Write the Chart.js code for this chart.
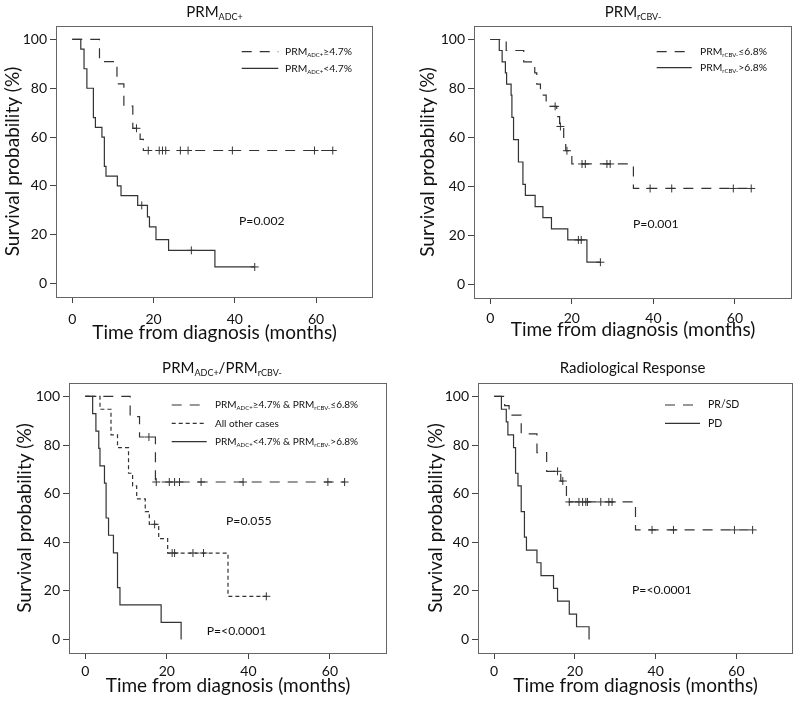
<!DOCTYPE html>
<html>
<head>
<meta charset="utf-8">
<script src="https://cdn.jsdelivr.net/npm/chart.js@4"></script>
<style>
  body { margin: 0; background: #fff; width: 800px; height: 701px; position: relative; overflow: hidden; }
  canvas { position: absolute; }
</style>
</head>
<body>
<canvas id="c1" width="390" height="344" style="left:1px;top:0px"></canvas>
<canvas id="c2" width="384" height="341" style="left:416px;top:0px"></canvas>
<canvas id="c3" width="390" height="340" style="left:13px;top:357px"></canvas>
<canvas id="c4" width="376" height="340" style="left:424px;top:357px"></canvas>
<script>
const xTicks = [0, 20, 40, 60];
const yTicks = [0, 20, 40, 60, 80, 100];

// PRM ADC+
const aHighT = [0, 6.7, 11.0, 12.7, 14.9, 16.7, 17.5, 64.1];
const aHighS = [100, 90.9, 81.8, 72.7, 63.6, 59.1, 54.5, 54.5];
const aHighCens = [15.8, 18.7, 21.4, 22.2, 23.0, 26.6, 28.5, 39.4, 59.6, 64.1];
const aLowT = [0, 2.1, 2.9, 3.6, 5.2, 5.7, 7.3, 7.9, 8.3, 11.1, 12.0, 16.1, 18.5, 19.0, 20.6, 23.7, 35.1, 44.9];
const aLowS = [100, 96, 88, 80, 68, 64, 60, 48, 44, 40, 36, 32, 27.3, 23.2, 18.0, 13.6, 6.8, 6.8];
const aLowCens = [17.1, 29.3, 44.9];

// PRM rCBV-
const bLowT = [0, 3.9, 8.2, 10.9, 11.4, 12.3, 13.7, 16.3, 17.0, 18.0, 18.5, 20.0, 35.1, 64.0];
const bLowS = [100, 95.5, 90.9, 86.4, 81.8, 77.3, 72.7, 68.5, 64.5, 59.6, 54.6, 49.2, 39.2, 39.2];
const bLowCens = [15.9, 17.2, 18.8, 22.5, 23.3, 28.6, 29.4, 39.2, 44.5, 59.6, 64.0];
const bHighT = [0, 2.2, 2.9, 3.7, 4.0, 5.1, 5.3, 5.7, 6.9, 8.0, 8.6, 11.0, 12.9, 15.0, 19.0, 23.7, 27.0];
const bHighS = [100, 95.5, 90.9, 86.4, 81.8, 77.3, 68.2, 59.1, 50, 40.9, 36.4, 31.8, 27.3, 22.7, 18.2, 9.1, 9.1];
const bHighCens = [21.6, 22.3, 27.0];

// PRM ADC+ / PRM rCBV-
const cBestT = [0, 11.0, 13.3, 17.2, 63.6];
const cBestS = [100, 91.7, 83.3, 64.8, 64.8];
const cBestCens = [15.6, 17.4, 20.6, 21.9, 23.1, 28.4, 38.7, 59.5, 63.6];
const cOtherT = [0, 3.6, 6.3, 7.9, 10.6, 11.6, 12.6, 14.7, 15.7, 18.0, 20.2, 35.0, 44.4];
const cOtherS = [100, 94.7, 84.2, 78.9, 68.4, 63.2, 57.9, 52.6, 47.4, 41.5, 35.6, 17.8, 17.8];
const cOtherCens = [17.0, 21.3, 21.9, 26.4, 29.0, 44.4];
const cWorstT = [0, 1.8, 2.6, 3.3, 3.6, 4.7, 5.1, 5.7, 6.9, 7.9, 8.5, 18.6, 23.5];
const cWorstS = [100, 92.9, 85.7, 78.6, 71.4, 64.3, 50, 42.9, 35.7, 21.4, 14.3, 7.1, 0];

// Radiological response
const dPrT = [0, 2.6, 3.7, 6.7, 10.6, 13.0, 16.5, 17.9, 35.0, 64.0];
const dPrS = [100, 96.2, 92.3, 84.6, 76.9, 69.2, 65.2, 56.6, 45.1, 45.1];
const dPrCens = [15.7, 17.0, 18.6, 21.0, 21.9, 22.7, 23.1, 26.4, 28.4, 29.2, 39.1, 44.4, 59.5, 64.0];
const dPdT = [0, 1.8, 3.0, 3.4, 4.8, 5.3, 5.9, 6.7, 7.5, 8.0, 10.6, 11.6, 14.7, 15.7, 18.6, 20.4, 23.5];
const dPdS = [100, 94.7, 89.5, 84.2, 78.9, 68.4, 63.2, 52.6, 42.1, 36.8, 31.6, 26.3, 21.1, 15.8, 10.5, 5.3, 0];

const FONT = 'Lato, "Open Sans", sans-serif';
const INK = '#333';
const LONG = [10, 8];
const SHORT = [4, 3];

Chart.defaults.font.family = FONT;
Chart.defaults.color = '#111';

const survAt = (t, T, S) => {
  let v = S[0];
  T.forEach((ti, i) => { if (ti <= t) v = S[i]; });
  return v;
};

const curve = (T, S, dash) => ({
  type: 'line',
  data: T.map((t, i) => ({ x: t, y: S[i] })),
  stepped: true,
  borderColor: INK,
  borderWidth: 1.2,
  borderDash: dash,
  pointRadius: 0,
  fill: false
});

const censors = (C, T, S) => ({
  type: 'scatter',
  data: C.map(t => ({ x: t, y: survAt(t, T, S) })),
  showLine: false,
  pointStyle: 'cross',
  pointRadius: 4,
  borderColor: INK,
  borderWidth: 1
});

// draws text made of [text, isSub] pieces
const drawRich = (ctx, parts, x, y, size, align) => {
  const subSize = Math.round(size * 0.6);
  const widths = parts.map(([txt, sub]) => {
    ctx.font = `${sub ? subSize : size}px ${FONT}`;
    return ctx.measureText(txt).width;
  });
  const total = widths.reduce((a, b) => a + b, 0);
  let cx = align === 'center' ? x - total / 2 : x;
  ctx.textBaseline = 'middle';
  ctx.textAlign = 'left';
  parts.forEach(([txt, sub], i) => {
    ctx.font = `${sub ? subSize : size}px ${FONT}`;
    ctx.fillText(txt, cx, sub ? y + size * 0.35 : y);
    cx += widths[i];
  });
};

const panelText = {
  id: 'panelText',
  afterDraw(chart, args, opts) {
    const { ctx, chartArea: a } = chart;
    ctx.save();
    ctx.strokeStyle = '#666';
    ctx.lineWidth = 1;
    ctx.setLineDash([]);
    ctx.strokeRect(Math.round(a.left) + 0.5, Math.round(a.top) + 0.5, Math.round(a.width) - 1, Math.round(a.height));
    ctx.fillStyle = '#111';
    drawRich(ctx, opts.title, (a.left + a.right) / 2 + opts.titleDx, a.top + opts.titleDy, 15, 'center');
    opts.legend.forEach((item, i) => {
      const y = a.top + opts.legendY + i * opts.legendStep;
      ctx.strokeStyle = INK;
      ctx.lineWidth = 1.2;
      ctx.setLineDash(item.dash);
      ctx.beginPath();
      ctx.moveTo(a.left + opts.sampleX[0], y);
      ctx.lineTo(a.left + opts.sampleX[1], y);
      ctx.stroke();
      drawRich(ctx, item.parts, a.left + opts.textX, y, opts.legendSize, 'left');
    });
    opts.pvals.forEach(p => drawRich(ctx, [[p.text]], a.left + p.x, a.top + p.y, 12.2, 'left'));
    ctx.restore();
  }
};

const makeChart = (id, box, datasets, text) => {
  const canvas = document.getElementById(id);
  new Chart(canvas, {
    type: 'line',
    data: { datasets },
    plugins: [panelText],
    options: {
      responsive: false,
      animation: false,
      events: [],
      layout: { padding: { top: box.top, right: box.right, left: 0, bottom: 0 } },
      plugins: { legend: { display: false }, tooltip: { enabled: false }, panelText: text },
      scales: {
        x: {
          type: 'linear', min: -4, max: 74,
          afterBuildTicks: s => { s.ticks = xTicks.map(v => ({ value: v })); },
          afterFit: s => { s.height = box.xh; },
          border: { display: false },
          grid: { drawOnChartArea: false, tickLength: 6, color: '#444' },
          ticks: { font: { size: 14 }, padding: box.tp, color: '#111' },
          title: { display: true, text: 'Time from diagnosis (months)', font: { size: 19 }, padding: 0, color: '#111' }
        },
        y: {
          type: 'linear', min: -5.5, max: 105.5,
          afterBuildTicks: s => { s.ticks = yTicks.map(v => ({ value: v })); },
          afterFit: s => { s.width = box.yw; },
          border: { display: false },
          grid: { drawOnChartArea: false, tickLength: 6, color: '#444' },
          ticks: { font: { size: 14 }, padding: 3, color: '#111' },
          title: { display: true, text: 'Survival probability (%)', font: { size: 19 }, padding: 0, color: '#111' }
        }
      }
    }
  });
};

makeChart('c1', { top: 26, right: 18, xh: 47, yw: 55, tp: 8 }, [
  curve(aHighT, aHighS, LONG), censors(aHighCens, aHighT, aHighS),
  curve(aLowT, aLowS, []), censors(aLowCens, aLowT, aLowS)
], {
  title: [['PRM'], ['ADC+', 1]], titleDx: 0, titleDy: -14,
  legendY: 25.7, legendStep: 16.6, sampleX: [185.7, 222.3], textX: 229, legendSize: 10.3,
  legend: [
    { dash: LONG, parts: [['PRM'], ['ADC+', 1], ['≥4.7%']] },
    { dash: [], parts: [['PRM'], ['ADC+', 1], ['<4.7%']] }
  ],
  pvals: [{ text: 'P=0.002', x: 183, y: 194.7 }]
});

makeChart('c2', { top: 26, right: 8, xh: 43, yw: 58, tp: 6 }, [
  curve(bLowT, bLowS, LONG), censors(bLowCens, bLowT, bLowS),
  curve(bHighT, bHighS, []), censors(bHighCens, bHighT, bHighS)
], {
  title: [['PRM'], ['rCBV-', 1]], titleDx: 0, titleDy: -14,
  legendY: 25.7, legendStep: 16, sampleX: [182.7, 217.7], textX: 226, legendSize: 10.3,
  legend: [
    { dash: LONG, parts: [['PRM'], ['rCBV-', 1], ['≤6.8%']] },
    { dash: [], parts: [['PRM'], ['rCBV-', 1], ['>6.8%']] }
  ],
  pvals: [{ text: 'P=0.001', x: 159, y: 198 }]
});

makeChart('c3', { top: 26, right: 16, xh: 44, yw: 56, tp: 4 }, [
  curve(cBestT, cBestS, LONG), censors(cBestCens, cBestT, cBestS),
  curve(cOtherT, cOtherS, SHORT), censors(cOtherCens, cOtherT, cOtherS),
  curve(cWorstT, cWorstS, [])
], {
  title: [['PRM'], ['ADC+', 1], ['/PRM'], ['rCBV-', 1]], titleDx: -6, titleDy: -15,
  legendY: 22, legendStep: 18.3, sampleX: [102.7, 137.7], textX: 146, legendSize: 10,
  legend: [
    { dash: LONG, parts: [['PRM'], ['ADC+', 1], ['≥4.7% & PRM'], ['rCBV-', 1], ['≤6.8%']] },
    { dash: SHORT, parts: [['All other cases']] },
    { dash: [], parts: [['PRM'], ['ADC+', 1], ['<4.7% & PRM'], ['rCBV-', 1], ['>6.8%']] }
  ],
  pvals: [{ text: 'P=0.055', x: 157, y: 137.7 }, { text: 'P=<0.0001', x: 137.7, y: 248 }]
});

makeChart('c4', { top: 26, right: 7, xh: 44, yw: 54, tp: 4 }, [
  curve(dPrT, dPrS, LONG), censors(dPrCens, dPrT, dPrS),
  curve(dPdT, dPdS, [])
], {
  title: [['Radiological Response']], titleDx: -3, titleDy: -15,
  legendY: 22, legendStep: 18.3, sampleX: [187, 222], textX: 230, legendSize: 10.5,
  legend: [
    { dash: LONG, parts: [['PR/SD']] },
    { dash: [], parts: [['PD']] }
  ],
  pvals: [{ text: 'P=<0.0001', x: 154, y: 207 }]
});
</script>
</body>
</html>
